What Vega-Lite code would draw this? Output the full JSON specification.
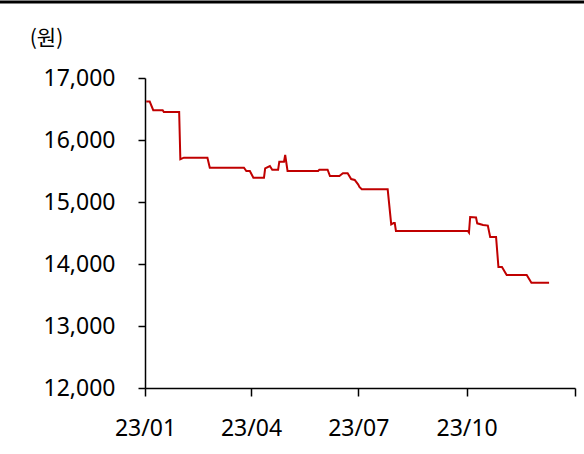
{
  "$schema": "https://vega.github.io/schema/vega-lite/v6.json",
  "autosize": {"type": "none"},
  "width": 430,
  "height": 310,
  "padding": {"left": 145, "top": 78, "right": 9, "bottom": 66},
  "background": "white",
  "config": {
    "view": {"stroke": null},
    "font": "Noto Sans",
    "axis": {"labelFont": "Noto Sans", "titleFont": "Noto Sans CJK KR", "grid": false, "domainColor": "#000000", "tickColor": "#000000", "labelColor": "#000000", "titleColor": "#000000", "domainWidth": 1.5, "tickWidth": 1.5}
  },
  "datasets": {
    "price": [
      {"date": "2023-01-02", "price": 16620},
      {"date": "2023-01-05", "price": 16620},
      {"date": "2023-01-08", "price": 16480},
      {"date": "2023-01-16", "price": 16480},
      {"date": "2023-01-17", "price": 16450},
      {"date": "2023-01-30", "price": 16450},
      {"date": "2023-01-31", "price": 15690},
      {"date": "2023-02-03", "price": 15715},
      {"date": "2023-02-23", "price": 15715},
      {"date": "2023-02-25", "price": 15553},
      {"date": "2023-03-26", "price": 15553},
      {"date": "2023-03-28", "price": 15500},
      {"date": "2023-03-31", "price": 15500},
      {"date": "2023-04-03", "price": 15392},
      {"date": "2023-04-12", "price": 15392},
      {"date": "2023-04-13", "price": 15543},
      {"date": "2023-04-17", "price": 15580},
      {"date": "2023-04-19", "price": 15520},
      {"date": "2023-04-24", "price": 15520},
      {"date": "2023-04-25", "price": 15650},
      {"date": "2023-04-29", "price": 15650},
      {"date": "2023-04-30", "price": 15758},
      {"date": "2023-05-02", "price": 15500},
      {"date": "2023-05-28", "price": 15500},
      {"date": "2023-05-29", "price": 15521},
      {"date": "2023-06-05", "price": 15521},
      {"date": "2023-06-07", "price": 15419},
      {"date": "2023-06-15", "price": 15419},
      {"date": "2023-06-18", "price": 15463},
      {"date": "2023-06-22", "price": 15463},
      {"date": "2023-06-25", "price": 15370},
      {"date": "2023-06-28", "price": 15355},
      {"date": "2023-07-01", "price": 15280},
      {"date": "2023-07-02", "price": 15242},
      {"date": "2023-07-04", "price": 15205},
      {"date": "2023-07-26", "price": 15205},
      {"date": "2023-07-29", "price": 14640},
      {"date": "2023-07-31", "price": 14660},
      {"date": "2023-08-01", "price": 14660},
      {"date": "2023-08-02", "price": 14532},
      {"date": "2023-10-02", "price": 14532},
      {"date": "2023-10-03", "price": 14505},
      {"date": "2023-10-04", "price": 14758},
      {"date": "2023-10-09", "price": 14750},
      {"date": "2023-10-10", "price": 14656},
      {"date": "2023-10-15", "price": 14630},
      {"date": "2023-10-19", "price": 14620},
      {"date": "2023-10-21", "price": 14435},
      {"date": "2023-10-26", "price": 14435},
      {"date": "2023-10-28", "price": 13952},
      {"date": "2023-10-31", "price": 13952},
      {"date": "2023-11-04", "price": 13823},
      {"date": "2023-11-21", "price": 13823},
      {"date": "2023-11-25", "price": 13698},
      {"date": "2023-12-10", "price": 13698}
    ],
    "frame": [{"name": "top"}]
  },
  "layer": [
    {
      "data": {"name": "price"},
      "mark": {"type": "line", "color": "#C00000", "strokeWidth": 2, "interpolate": "linear"},
      "encoding": {
        "x": {
          "field": "date", "type": "temporal",
          "scale": {"type": "utc", "domain": ["2023-01-01", "2024-01-01"]},
          "axis": {
            "title": null,
            "values": ["2023-01-01", "2023-04-01", "2023-07-01", "2023-10-01", "2024-01-01"],
            "labelExpr": "utcFormat(datum.value, '%Y') == '2024' ? '' : utcFormat(datum.value, '%y/%m')",
            "tickSize": 8, "labelPadding": 21, "labelFontSize": 23, "labelFlush": false
          }
        },
        "y": {
          "field": "price", "type": "quantitative",
          "scale": {"domain": [12000, 17000], "nice": false, "zero": false},
          "axis": {
            "title": "(원)", "titleAngle": 0, "titleX": -99, "titleY": -40,
            "titleAlign": "center", "titleBaseline": "middle", "titleFontSize": 21, "titleFontWeight": "normal",
            "values": [12000, 13000, 14000, 15000, 16000, 17000],
            "format": ",d", "tickSize": 7, "labelPadding": 23, "labelFontSize": 23
          }
        }
      }
    },
    {
      "data": {"name": "frame"},
      "mark": {"type": "rule", "color": "#000000", "strokeWidth": 3, "clip": false},
      "encoding": {
        "x": {"value": -145},
        "x2": {"value": 439},
        "y": {"value": -76}
      }
    }
  ]
}
